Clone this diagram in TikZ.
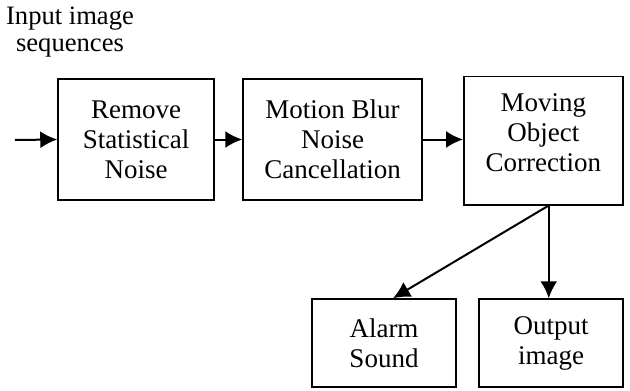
\documentclass[tikz,border=0pt]{standalone}
\usepackage{fontspec}
\setmainfont{Liberation Serif}
\usetikzlibrary{arrows.meta}

\begin{document}
\begin{tikzpicture}[x=0.5pt,y=-0.5pt,
    box/.style={draw, line width=0.75pt, align=center, inner sep=0pt,
      font=\fontsize{13.5}{15}\selectfont},
    arr/.style={line width=1pt, -{Latex[length=8.5pt,width=8.5pt]}}]
    \useasboundingbox (0,0) rectangle (630,390);
    \node[align=center, font=\fontsize{13.3}{13.5}\selectfont] (input) at (70,32) {Input image\\sequences};
    \coordinate (start) at (15,140);
    \node[box, minimum width=78pt, minimum height=60.5pt] (noise) at (136,139.5) {Remove\\Statistical\\Noise};
    \node[box, minimum width=89.5pt, minimum height=60.5pt] (blur) at (332.5,139.5) {Motion Blur\\Noise\\Cancellation};
    \node[box, minimum width=79.5pt, minimum height=64pt, anchor=north west] (corr) at (463,76) {Moving\\Object\\Correction\\[-7pt]{}};
    \node[box, minimum width=72pt, minimum height=44pt] (alarm) at (384,343) {Alarm\\Sound};
    \node[box, minimum width=72pt, minimum height=44pt] (out) at (551,343) {Output\\image};
    \coordinate (split) at ([xshift=2.75pt]corr.south);
    \draw[arr] (start) -- (noise.west);
    \draw[arr] (noise.east) -- (blur.west);
    \draw[arr] (blur.east) -- (blur.east -| corr.west);
    \draw[arr] (split) -- ([xshift=4.5pt]alarm.north);
    \draw[arr] (split) -- (split |- out.north);
\end{tikzpicture}
\end{document}
